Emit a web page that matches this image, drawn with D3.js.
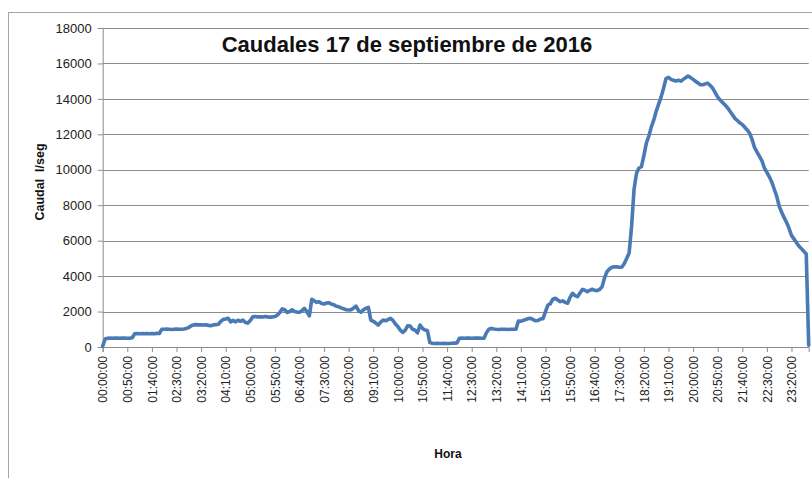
<!DOCTYPE html>
<html>
<head>
  <meta charset="utf-8">
  <script src="https://d3js.org/d3.v7.min.js"></script>
  <style>
    body { margin: 0; background: #ffffff; }
    text { font-family: 'Liberation Sans', Arial, sans-serif; }
  </style>
</head>
<body>
  <div id="chart"></div>
  <script>
    // caudal every 5 minutes, one hour per row (l/seg)
    const caudal = [
      50, 450, 490, 500, 490, 500, 500, 490, 500, 500, 490, 500,
      520, 750, 760, 750, 760, 750, 760, 750, 760, 750, 770, 760,
      1000, 1000, 1010, 1000, 990, 1000, 1010, 1000, 1000, 1020, 1050, 1100,
      1200, 1250, 1260, 1250, 1250, 1240, 1250, 1220, 1200, 1250, 1260, 1280,
      1450, 1560, 1580, 1620, 1420, 1500, 1420, 1510, 1450, 1520, 1380, 1350,
      1500, 1700, 1720, 1700, 1710, 1690, 1720, 1700, 1680, 1700, 1720, 1800,
      1950, 2150, 2100, 1950, 2000, 2100, 2000, 1970, 1960, 2050, 2180, 2000,
      1750, 2690, 2600, 2520, 2550, 2450, 2430, 2480, 2500, 2420, 2380, 2300,
      2270, 2200, 2150, 2100, 2090, 2100, 2200, 2310, 2050, 1960, 2100, 2180,
      2240, 1520, 1450, 1350, 1240, 1400, 1520, 1480, 1550, 1620, 1500, 1300,
      1150, 950, 820, 950, 1200, 1180, 1000, 950, 800, 1240, 1050, 960,
      930, 250, 210, 200, 210, 200, 200, 210, 200, 200, 210, 220,
      230, 490, 500, 490, 500, 500, 490, 500, 500, 500, 490, 500,
      800, 1000, 1050, 1020, 1000, 990, 1000, 1000, 1000, 990, 1000, 1000,
      1000, 1470, 1450, 1500, 1550, 1600, 1620, 1550, 1480, 1500, 1580, 1600,
      2000, 2370, 2450, 2700, 2750, 2650, 2560, 2600, 2520, 2470, 2800, 3030,
      2900, 2840, 3050, 3250, 3200, 3120, 3200, 3260, 3200, 3180, 3250, 3400,
      3900, 4250, 4400, 4500, 4530, 4520, 4500, 4500, 4700, 5000, 5300, 6800,
      8900, 9800, 10100, 10170, 10800, 11500, 11900, 12400, 12800, 13300, 13700, 14100,
      14600, 15150, 15220, 15100, 15050, 15000, 15050, 15000, 15100, 15200, 15290, 15200,
      15100, 15000, 14900, 14800, 14800, 14850, 14880, 14750, 14600, 14350, 14100, 13940,
      13800, 13650, 13500, 13300, 13100, 12900, 12780, 12650, 12550, 12400, 12250, 12060,
      11700, 11250, 11000, 10750, 10500, 10100, 9850, 9600, 9300, 8900, 8500, 7950,
      7600, 7300, 7030, 6700, 6300, 6100, 5900, 5700, 5550, 5400, 5250, 100
    ];
    const stepMinutes = 5;

    const tickLabels = [
      "00:00:00", "00:50:00", "01:40:00", "02:30:00", "03:20:00", "04:10:00",
      "05:00:00", "05:50:00", "06:40:00", "07:30:00", "08:20:00", "09:10:00",
      "10:00:00", "10:50:00", "11:40:00", "12:30:00", "13:20:00", "14:10:00",
      "15:00:00", "15:50:00", "16:40:00", "17:30:00", "18:20:00", "19:10:00",
      "20:00:00", "20:50:00", "21:40:00", "22:30:00", "23:20:00"
    ];
    const yTicks = [0, 2000, 4000, 6000, 8000, 10000, 12000, 14000, 16000, 18000];

    const title = "Caudales 17 de septiembre de 2016";
    const yTitle = "Caudal  l/seg";
    const xTitle = "Hora";

    var width = 812, height = 478;
    var plot = { left: 102.7, right: 808.7, top: 28, bottom: 347 };

    function toMinutes(s) {
      var p = s.split(":");
      return +p[0] * 60 + +p[1];
    }

    var data = caudal.map(function (v, i) { return { t: i * stepMinutes, v: v }; });

    var x = d3.scaleLinear()
      .domain([0, (caudal.length - 1) * stepMinutes])
      .range([plot.left, plot.right]);

    var y = d3.scaleLinear()
      .domain([0, 18000])
      .range([plot.bottom, plot.top]);

    var svg = d3.select("#chart").append("svg")
      .attr("width", width)
      .attr("height", height);

    // chart frame
    svg.append("rect")
      .attr("x", 8.5).attr("y", 12.5)
      .attr("width", 900).attr("height", 600)
      .attr("fill", "none")
      .attr("stroke", "#a6a6a6");

    // gridlines
    svg.append("g")
      .selectAll("line")
      .data(yTicks.filter(function (d) { return d > 0; }))
      .enter().append("line")
      .attr("x1", plot.left).attr("x2", plot.right)
      .attr("y1", function (d) { return Math.round(y(d)) + 0.5; })
      .attr("y2", function (d) { return Math.round(y(d)) + 0.5; })
      .attr("stroke", "#8c8c8c");

    // y axis
    var yAxis = svg.append("g")
      .attr("transform", "translate(" + plot.left + ",0)")
      .call(d3.axisLeft(y).tickValues(yTicks).tickSize(5).tickPadding(6).tickFormat(d3.format("d")));
    yAxis.select(".domain").attr("stroke", "#8c8c8c");
    yAxis.selectAll(".tick line").attr("stroke", "#8c8c8c");
    yAxis.selectAll("text")
      .attr("font-family", "'Liberation Sans', Arial, sans-serif")
      .attr("font-size", 13)
      .attr("fill", "#222");

    // x axis
    var xAxis = svg.append("g")
      .attr("transform", "translate(0," + plot.bottom + ")")
      .call(d3.axisBottom(x)
        .tickValues(tickLabels.map(toMinutes))
        .tickSize(5)
        .tickFormat(function (d, i) { return tickLabels[i]; }));
    xAxis.select(".domain").attr("stroke", "#8c8c8c");
    xAxis.selectAll(".tick line").attr("stroke", "#8c8c8c");
    xAxis.selectAll("text")
      .attr("font-family", "'Liberation Sans', Arial, sans-serif")
      .attr("font-size", 12)
      .attr("fill", "#222")
      .attr("transform", "rotate(-90)")
      .attr("text-anchor", "end")
      .attr("x", -9)
      .attr("y", 0)
      .attr("dy", "0.35em");

    // series line
    var line = d3.line()
      .x(function (d) { return x(d.t); })
      .y(function (d) { return y(d.v); });

    svg.append("path")
      .datum(data)
      .attr("d", line)
      .attr("fill", "none")
      .attr("stroke", "#4a7ab5")
      .attr("stroke-width", 3.6)
      .attr("stroke-linejoin", "round")
      .attr("stroke-linecap", "round");

    // titles
    svg.append("text")
      .attr("x", 407).attr("y", 52)
      .attr("text-anchor", "middle")
      .attr("font-size", 22)
      .attr("font-weight", "bold")
      .attr("fill", "#111")
      .text(title);

    svg.append("text")
      .attr("transform", "translate(44,182) rotate(-90)")
      .attr("text-anchor", "middle")
      .attr("font-size", 12.5)
      .attr("font-weight", "bold")
      .attr("fill", "#111")
      .style("white-space", "pre")
      .text(yTitle);

    svg.append("text")
      .attr("x", 448).attr("y", 458)
      .attr("text-anchor", "middle")
      .attr("font-size", 12)
      .attr("font-weight", "bold")
      .attr("fill", "#111")
      .text(xTitle);
  </script>
</body>
</html>
